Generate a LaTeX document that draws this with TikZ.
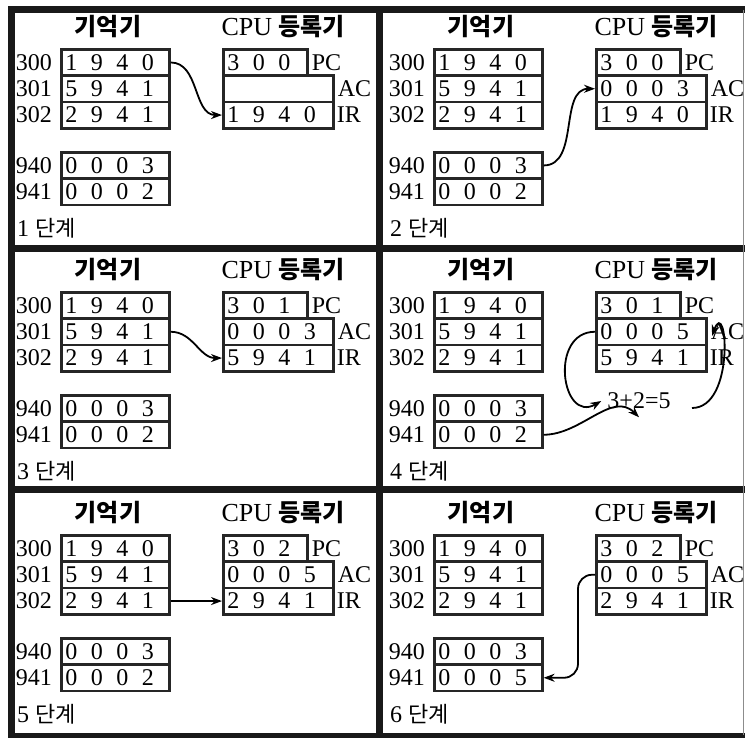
\documentclass[tikz,border=0pt]{standalone}
\usepackage{fontspec}
\setmainfont{Liberation Serif}
\newfontfamily\kor{Noto Sans CJK KR}
\usetikzlibrary{positioning,arrows.meta}

\tikzset{
  word/.style={draw=black!85, line width=2.6pt, anchor=north west,
    inner xsep=4pt, inner ysep=0pt, text width=#1, align=left,
    minimum height=26.3pt, font=\fontsize{24}{26}\selectfont,
    execute at begin node={\spaceskip=13.5pt\relax}},
  word/.default=100pt,
  tag/.style={inner sep=0pt, font=\fontsize{24}{26}\selectfont},
  title/.style={inner sep=0pt, font=\fontsize{24}{26}\selectfont},
  flow/.style={-{Stealth[length=11pt,width=8pt]}, line width=1.8pt},
  frame/.style={line width=7pt, black!90}
}

% one step of the fetch/execute cycle
\newcommand\steppanel[8]{%
  \begin{scope}[shift={(#2,#3)}]
    % titles
    \node[title] (#1memt) at (108,27) {\kor\bfseries 기억기};
    \node[title] (#1cput) at (283,27) {{\fontsize{26}{26}\selectfont CPU} \kor\bfseries 등록기};
    % memory words
    \node[word] (#1m300) at (60,48) {1~9~4~0};
    \node[word] (#1m301) at (60,74.3) {5~9~4~1};
    \node[word] (#1m302) at (60,100.6) {2~9~4~1};
    \node[word] (#1m940) at (60,151) {0~0~0~3};
    \node[word] (#1m941) at (60,177.3) {#7};
    \node[tag, left=8pt of #1m300] (#1a300) {300};
    \node[tag, left=8pt of #1m301] (#1a301) {301};
    \node[tag, left=8pt of #1m302] (#1a302) {302};
    \node[tag, left=8pt of #1m940] (#1a940) {940};
    \node[tag, left=8pt of #1m941] (#1a941) {941};
    % registers
    \node[word=76pt] (#1pc) at (222,48) {#4};
    \node[word=102pt] (#1ac) at (222,74.3) {#5};
    \node[word=102pt] (#1ir) at (222,100.6) {#6};
    \node[tag, right=3pt of #1pc] (#1pcl) {PC};
    \node[tag, right=3pt of #1ac] (#1acl) {AC};
    \node[tag, right=2pt of #1ir] (#1irl) {IR};
    % step number
    \node[tag, anchor=west] (#1step) at (17,228) {#8 {\kor\fontsize{22}{26}\selectfont 단계}};
  \end{scope}}

\begin{document}
\begin{tikzpicture}[x=1pt, y=-1pt]
  \useasboundingbox (0,0) rectangle (745,737);

  % frame and dividers
  \draw[frame] (11.5,737) -- (11.5,9.5) -- (745,9.5);
  \draw[frame] (379.5,9.5) -- (379.5,735);
  \draw[frame] (8,248.5) -- (745,248.5);
  \draw[frame] (8,489.5) -- (745,489.5);
  \draw[frame, line width=5pt] (8,735) -- (745,735);
  \draw[black!45, line width=1.5pt] (743.5,9.5) -- (743.5,735);

  % the six steps
  \steppanel{p1}{0}{0}{3~0~0}{}{1~9~4~0}{0~0~0~2}{1}
  \steppanel{p2}{373}{0}{3~0~0}{0~0~0~3}{1~9~4~0}{0~0~0~2}{2}
  \steppanel{p3}{0}{243}{3~0~1}{0~0~0~3}{5~9~4~1}{0~0~0~2}{3}
  \steppanel{p4}{373}{243}{3~0~1}{0~0~0~5}{5~9~4~1}{0~0~0~2}{4}
  \steppanel{p5}{0}{486}{3~0~2}{0~0~0~5}{2~9~4~1}{0~0~0~2}{5}
  \steppanel{p6}{373}{486}{3~0~2}{0~0~0~5}{2~9~4~1}{0~0~0~5}{6}

  % the addition in step 4
  \node[tag, inner xsep=6pt, inner ysep=8pt] (p4sum) at (639,401) {3+2=5};
  \coordinate (p4back) at (692,408);
  \coordinate (p4tip) at (712,336);

  % data movements
  \draw[flow] (p1m300.east) to[out=0,in=180] (p1ir.west);
  \draw[flow] (p2m940.east) to[out=0,in=180] (p2ac.west);
  \draw[flow] (p3m301.east) to[out=0,in=180] (p3ir.west);
  \draw[flow] (p4ac.west) to[out=180,in=210,looseness=1.7] (p4sum.west);
  \draw[flow] (p4m941.east) to[out=0,in=135] (p4sum.south);
  \draw[flow] (p4back) to[out=0,in=70,looseness=1.5] (p4tip);
  \draw[flow] (p5m302.east) -- (p5ir.west);
  \draw[flow, rounded corners=14pt] (p6ac.west) -- ++(-17,0) |- (p6m941.east);

\end{tikzpicture}
\end{document}
